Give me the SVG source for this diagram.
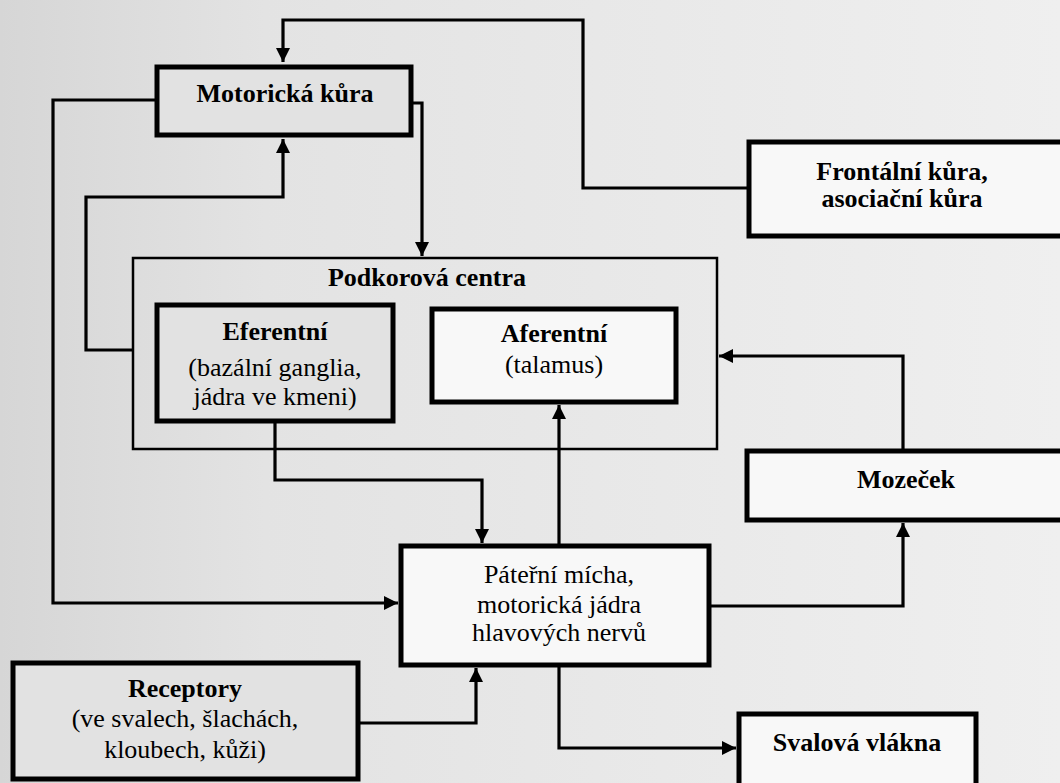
<svg xmlns="http://www.w3.org/2000/svg" width="1060" height="783" viewBox="0 0 1060 783">
  <defs>
    <linearGradient id="paper" x1="0" y1="0" x2="1" y2="0">
      <stop offset="0" stop-color="#d6d6d6"/>
      <stop offset="0.25" stop-color="#e3e3e3"/>
      <stop offset="1" stop-color="#efefef"/>
    </linearGradient>
    <marker id="arrow" viewBox="0 0 14 14" refX="14" refY="7" markerWidth="14" markerHeight="14" markerUnits="userSpaceOnUse" orient="auto">
      <path d="M0,0 L14,7 L0,14 z" fill="#000"/>
    </marker>
    <style>
      .box { stroke: #000; stroke-width: 5; }
      .thin { stroke: #000; stroke-width: 2.5; fill: none; }
      .white { fill: #f8f8f8; }
      .gray { fill: #e2e2e2; }
      .conn { fill: none; stroke: #000; stroke-width: 3.2; }
      text { font-family: "Liberation Serif", "Times New Roman", Tinos, "DejaVu Serif", serif; font-size: 26px; font-weight: normal; fill: #000; text-anchor: middle; }
      .b { font-weight: bold; }
    </style>
  </defs>

  <rect x="0" y="0" width="1060" height="783" fill="url(#paper)"/>

  <!-- connectors -->
  <g id="connectors">
    <path class="conn" d="M747,188 H583 V20 H283 V62" marker-end="url(#arrow)"/>
    <path class="conn" d="M413,103 H422 V256" marker-end="url(#arrow)"/>
    <path class="conn" d="M155,100 H53 V603 H398" marker-end="url(#arrow)"/>
    <path class="conn" d="M132,350 H86 V197 H283 V139" marker-end="url(#arrow)"/>
    <path class="conn" d="M275,423 V480 H482 V543" marker-end="url(#arrow)"/>
    <path class="conn" d="M559,545 V405" marker-end="url(#arrow)"/>
    <path class="conn" d="M903,450 V356 H719" marker-end="url(#arrow)"/>
    <path class="conn" d="M710,606 H903 V523" marker-end="url(#arrow)"/>
    <path class="conn" d="M559,666 V748 H736" marker-end="url(#arrow)"/>
    <path class="conn" d="M359,723 H476 V668" marker-end="url(#arrow)"/>
  </g>

  <g id="motoricka-kura">
    <rect class="box gray" x="157" y="67" width="254" height="68"/>
    <text class="b" x="285" y="102">Motorická kůra</text>
  </g>

  <g id="frontalni-kura">
    <rect class="box white" x="749" y="142" width="320" height="94"/>
    <text class="b" x="902" y="180">Frontální kůra,</text>
    <text class="b" x="902" y="207">asociační kůra</text>
  </g>

  <g id="podkorova-centra">
    <rect class="thin" x="133" y="258" width="584" height="191"/>
    <text class="b" x="427" y="286">Podkorová centra</text>
  </g>

  <g id="eferentni">
    <rect class="box gray" x="157" y="305" width="236" height="116"/>
    <text class="b" x="275" y="340">Eferentní</text>
    <text x="275" y="376">(bazální ganglia,</text>
    <text x="275" y="405">jádra ve kmeni)</text>
  </g>

  <g id="aferentni">
    <rect class="box white" x="432" y="309" width="244" height="93"/>
    <text class="b" x="554" y="342">Aferentní</text>
    <text x="554" y="373">(talamus)</text>
  </g>

  <g id="mozecek">
    <rect class="box white" x="747" y="451" width="320" height="69"/>
    <text class="b" x="906" y="488">Mozeček</text>
  </g>

  <g id="paterni-micha">
    <rect class="box white" x="401" y="546" width="308" height="119"/>
    <text x="559" y="583">Páteřní mícha,</text>
    <text x="559" y="613">motorická jádra</text>
    <text x="559" y="641">hlavových nervů</text>
  </g>

  <g id="receptory">
    <rect class="box gray" x="13" y="663" width="345" height="116"/>
    <text class="b" x="185" y="697">Receptory</text>
    <text x="185" y="727">(ve svalech, šlachách,</text>
    <text x="185" y="758">kloubech, kůži)</text>
  </g>

  <g id="svalova-vlakna">
    <rect class="box white" x="739" y="714" width="237" height="72"/>
    <text class="b" x="857" y="751">Svalová vlákna</text>
  </g>
</svg>
